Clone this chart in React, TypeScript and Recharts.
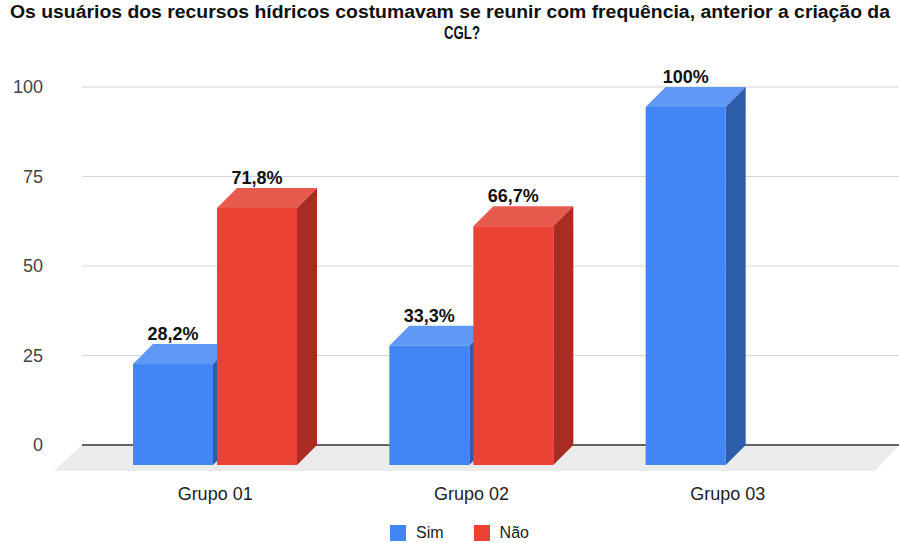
import React from "react";
import {
  BarChart,
  Bar,
  XAxis,
  YAxis,
  CartesianGrid,
  Legend,
  LabelList,
} from "recharts";

// values
const categories = ["Grupo 01", "Grupo 02", "Grupo 03"];
const simValues = [28.2, 33.3, 100];
const naoValues = [71.8, 66.7, 0];
const yTicks = [0, 25, 50, 75, 100];

const titleLine1 =
  "Os usuários dos recursos hídricos costumavam se reunir com frequência, anterior a criação da";
const titleLine2 = "CGL?";

const data = categories.map((name, i) => ({
  name,
  Sim: simValues[i],
  Nao: naoValues[i],
}));

const FONT = "'Liberation Sans', Arial, sans-serif";
const DEPTH = 20; // 3D offset of the front face (left / down)

const BLUE = { front: "#4285f4", top: "#5f98f5", side: "#2d5ca9" };
const RED = { front: "#ea4335", top: "#e85a4e", side: "#a82c22" };

type Colors = { front: string; top: string; side: string };

// 3D box: recharts gives the back-wall rectangle, front face is shifted by DEPTH
const Box3D = (props: any, c: Colors) => {
  const { x, y, width, height } = props;
  if (!height || height <= 0) return <g />;
  const fx = x - DEPTH;
  const fy = y + DEPTH;
  const w = width;
  const h = height;
  return (
    <g>
      <polygon
        points={`${fx},${fy} ${x},${y} ${x + w},${y} ${fx + w},${fy}`}
        fill={c.top}
      />
      <polygon
        points={`${fx + w},${fy} ${x + w},${y} ${x + w},${y + h} ${fx + w},${fy + h}`}
        fill={c.side}
      />
      <rect x={fx} y={fy} width={w} height={h} fill={c.front} />
    </g>
  );
};

const fmt = (v: number) => String(v).replace(".", ",") + "%";

const ValueLabel = (props: any) => {
  const { x, y, width, value } = props;
  if (!value) return null;
  return (
    <text
      x={x + width / 2 - DEPTH}
      y={y - 4}
      textAnchor="middle"
      fontFamily={FONT}
      fontWeight="bold"
      fontSize={18}
      fill="#111"
    >
      {fmt(value)}
    </text>
  );
};

// grid line; the bottom one (value 0) becomes the floor + black axis line
const GridLine = (props: any) => {
  const { x1, x2, y1, y, height } = props;
  const isBase = Math.abs(y1 - (y + height)) < 1;
  if (!isBase) {
    return <line x1={x1} y1={y1} x2={x2} y2={y1} stroke="#d6d6d6" strokeWidth={1} />;
  }
  return (
    <g>
      <polygon
        points={`${x1},${y1} ${x2},${y1} ${x2 - 24},${y1 + 26} ${x1 - 28},${y1 + 26}`}
        fill="#ebebeb"
      />
      <line x1={x1} y1={y1} x2={x2} y2={y1} stroke="#333" strokeWidth={1.5} />
    </g>
  );
};

const XTick = (props: any) => {
  const { x, y, payload } = props;
  return (
    <text
      x={x - DEPTH}
      y={y + 53}
      textAnchor="middle"
      fontFamily={FONT}
      fontSize={18}
      fill="#222"
    >
      {payload.value}
    </text>
  );
};

const LegendBox = () => (
  <div
    style={{
      display: "flex",
      justifyContent: "center",
      alignItems: "center",
      height: 20,
      paddingLeft: 20,
      fontFamily: FONT,
      fontSize: 16,
      color: "#222",
    }}
  >
    <span style={{ width: 16, height: 16, background: BLUE.front, marginRight: 10 }} />
    <span style={{ marginRight: 30 }}>Sim</span>
    <span style={{ width: 16, height: 16, background: RED.front, marginRight: 10 }} />
    <span>Não</span>
  </div>
);

export default function App() {
  return (
    <div style={{ width: 899, height: 543, background: "#fff", position: "relative" }}>
      <style>{"body{margin:0}"}</style>
      <BarChart
        width={899}
        height={543}
        data={data}
        margin={{ top: 87, right: 0, bottom: 0, left: 0 }}
        barSize={80}
        barGap={4}
      >
        <text
          x={450}
          y={18}
          textAnchor="middle"
          fontFamily={FONT}
          fontWeight="bold"
          fontSize={18}
          fill="#111"
          textLength={880}
          lengthAdjust="spacingAndGlyphs"
        >
          {titleLine1}
        </text>
        <text
          x={462}
          y={39}
          textAnchor="middle"
          fontFamily={FONT}
          fontWeight="bold"
          fontSize={18}
          fill="#111"
          textLength={36}
          lengthAdjust="spacingAndGlyphs"
        >
          {titleLine2}
        </text>
        <CartesianGrid vertical={false} horizontal={GridLine} />
        <XAxis
          dataKey="name"
          height={78}
          axisLine={false}
          tickLine={false}
          tickSize={0}
          padding={{ left: 25, right: 23 }}
          tick={<XTick />}
        />
        <YAxis
          domain={[0, 100]}
          ticks={yTicks}
          width={82}
          axisLine={false}
          tickLine={false}
          tickSize={0}
          tickMargin={39}
          tick={{ fontSize: 18, fill: "#444", fontFamily: FONT }}
        />
        <Legend verticalAlign="bottom" height={20} content={<LegendBox />} />
        <Bar dataKey="Sim" name="Sim" isAnimationActive={false} shape={(p: any) => Box3D(p, BLUE)}>
          <LabelList dataKey="Sim" content={<ValueLabel />} />
        </Bar>
        <Bar dataKey="Nao" name="Não" isAnimationActive={false} shape={(p: any) => Box3D(p, RED)}>
          <LabelList dataKey="Nao" content={<ValueLabel />} />
        </Bar>
      </BarChart>
    </div>
  );
}
